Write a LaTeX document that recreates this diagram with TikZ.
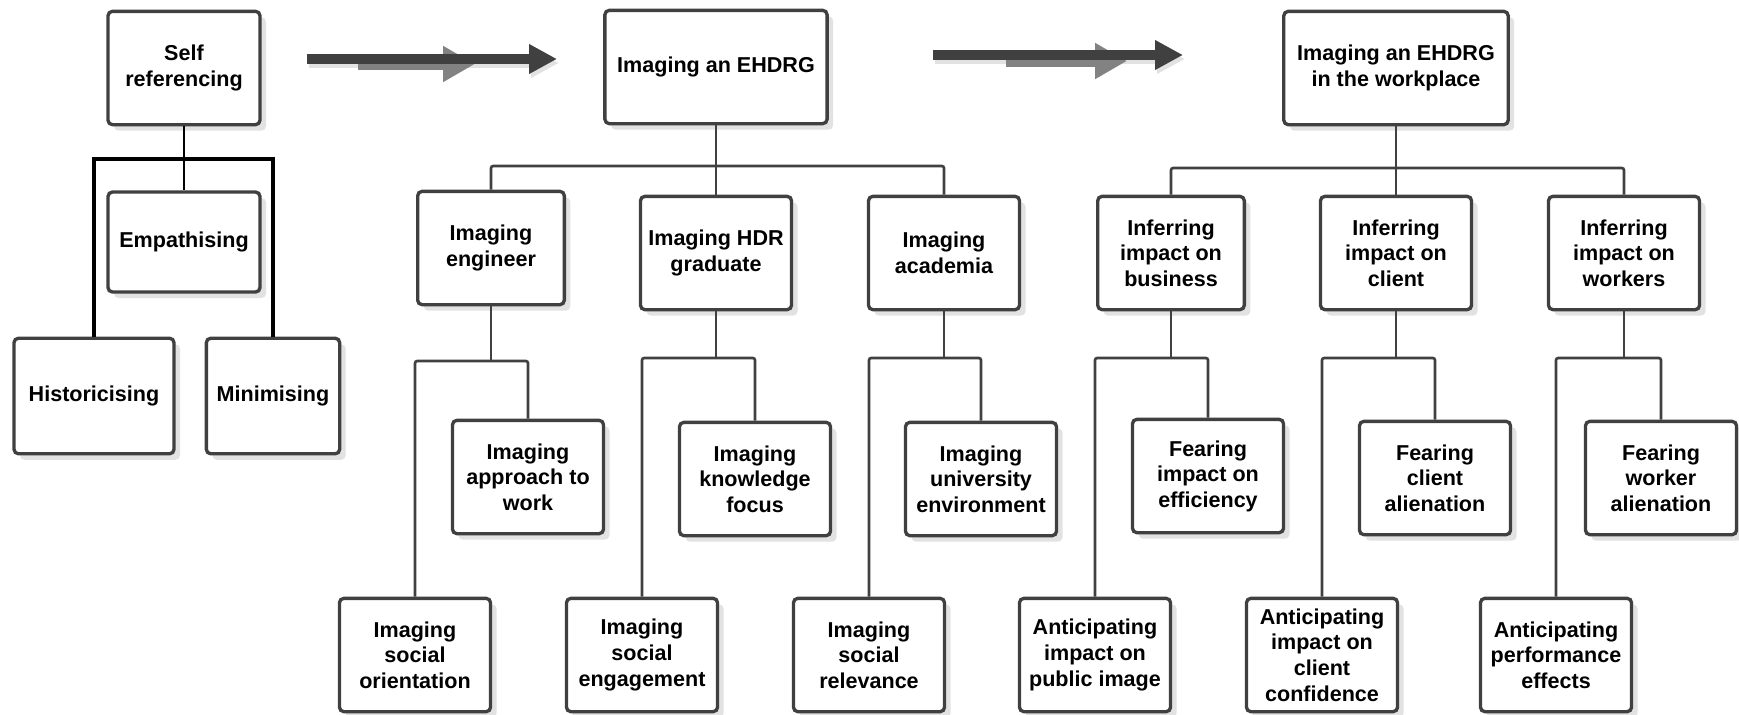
\documentclass[tikz,border=0pt]{standalone}
\usepackage{fontspec}
\setmainfont{Liberation Sans}
\usetikzlibrary{shadows,arrows.meta}

\definecolor{boxline}{HTML}{404040}
\definecolor{flowdark}{HTML}{404040}
\definecolor{flowgrey}{HTML}{828282}
\definecolor{shade}{HTML}{E2E2E2}

\tikzset{
  item/.style={draw=boxline, line width=1.5pt, rounded corners=2pt, fill=white,
    align=center, inner sep=2pt, font=\bfseries\fontsize{9.7}{11.5}\selectfont,
    minimum width=68pt, minimum height=51pt,
    drop shadow={shadow xshift=2.7pt, shadow yshift=-2.7pt, fill=shade, opacity=1}},
  link/.style={draw=boxline, line width=1.2pt, rounded corners=1pt},
  bracket/.style={draw=black, line width=1.5pt},
  thinlink/.style={draw=black, line width=0.5pt},
  darkarrow/.style={draw=flowdark, line width=4.5pt, -{Triangle[length=12.6pt,width=12.6pt]}},
  greyarrow/.style={draw=flowgrey, line width=5.4pt, -{Triangle[length=14.4pt,width=15.3pt]}},
  shadearrow/.style={draw=shade, line width=4.5pt, -{Triangle[length=12.6pt,width=12.6pt]}}
}

\begin{document}
\begin{tikzpicture}[x=0.45pt, y=-0.45pt]
  \useasboundingbox (0,0) rectangle (1739,714);

  % self referencing group
  \node[item, minimum width=68.4pt] (selfref) at (184,68) {Self\\referencing};
  \node[item, minimum width=68.4pt, minimum height=45pt] (empath) at (184,242) {Empathising};
  \node[item, minimum width=72pt, minimum height=52pt] (histor) at (94,396) {Historicising};
  \node[item, minimum width=60pt, minimum height=52pt] (minim) at (273,396) {Minimising};
  \coordinate (brk) at (184,159);
  \draw[thinlink] (selfref) -- (empath);
  \draw[bracket] (histor.north) |- (brk) -| (minim.north);

  % arrows between the stages
  \coordinate (a1s) at (307,59);  \coordinate (a1e) at (557,59);
  \coordinate (g1s) at (358,64);  \coordinate (g1e) at (475,64);
  \coordinate (a2s) at (933,55);  \coordinate (a2e) at (1183,55);
  \coordinate (g2s) at (1006,61); \coordinate (g2e) at (1127,61);
  \draw[shadearrow] ([shift={(2,4)}]a1s) -- ([shift={(2,4)}]a1e);
  \draw[greyarrow] (g1s) -- (g1e);
  \draw[darkarrow] (a1s) -- (a1e);
  \draw[shadearrow] ([shift={(2,4)}]a2s) -- ([shift={(2,4)}]a2e);
  \draw[greyarrow] (g2s) -- (g2e);
  \draw[darkarrow] (a2s) -- (a2e);

  % imaging an EHDRG
  \node[item, minimum width=100pt] (ehdrg) at (716,67) {Imaging an EHDRG};
  \node[item, minimum width=66pt] (eng) at (491,248) {Imaging\\engineer};
  \node[item] (hdr) at (716,253) {Imaging HDR\\graduate};
  \node[item] (acad) at (944,253) {Imaging\\academia};
  \node[item] (approach) at (528,477) {Imaging\\approach to\\work};
  \node[item] (socorient) at (415,655) {Imaging\\social\\orientation};
  \node[item] (knowledge) at (755,479) {Imaging\\knowledge\\focus};
  \node[item] (socengage) at (642,655) {Imaging\\social\\engagement};
  \node[item] (univ) at (981,479) {Imaging\\university\\environment};
  \node[item] (socrel) at (869,655) {Imaging\\social\\relevance};

  \coordinate (busM) at (716,166);
  \draw[link] (ehdrg) -- (busM);
  \draw[link] (eng.north) |- (busM) -| (acad.north);
  \draw[link] (busM) -- (hdr.north);
  \coordinate (busEng) at (491,361);
  \draw[link] (eng) -- (busEng);
  \draw[link] (socorient.north) |- (busEng) -| (approach.north);
  \coordinate (busHdr) at (716,358);
  \draw[link] (hdr) -- (busHdr);
  \draw[link] (socengage.north) |- (busHdr) -| (knowledge.north);
  \coordinate (busAcad) at (944,358);
  \draw[link] (acad) -- (busAcad);
  \draw[link] (socrel.north) |- (busAcad) -| (univ.north);

  % imaging an EHDRG in the workplace
  \node[item, minimum width=101pt] (workplace) at (1396,68) {Imaging an EHDRG\\in the workplace};
  \node[item, minimum width=66pt] (business) at (1171,253) {Inferring\\impact on\\business};
  \node[item] (client) at (1396,253) {Inferring\\impact on\\client};
  \node[item] (workers) at (1624,253) {Inferring\\impact on\\workers};
  \node[item] (efficiency) at (1208,476) {Fearing\\impact on\\efficiency};
  \node[item] (public) at (1095,655) {Anticipating\\impact on\\public image};
  \node[item] (clientalien) at (1435,478) {Fearing\\client\\alienation};
  \node[item] (confidence) at (1322,655) {Anticipating\\impact on\\client\\confidence};
  \node[item] (workeralien) at (1661,478) {Fearing\\worker\\alienation};
  \node[item] (perf) at (1556,655) {Anticipating\\performance\\effects};

  \coordinate (busR) at (1396,168);
  \draw[link] (workplace) -- (busR);
  \draw[link] (business.north) |- (busR) -| (workers.north);
  \draw[link] (busR) -- (client.north);
  \coordinate (busBus) at (1171,358);
  \draw[link] (business) -- (busBus);
  \draw[link] (public.north) |- (busBus) -| (efficiency.north);
  \coordinate (busCli) at (1396,358);
  \draw[link] (client) -- (busCli);
  \draw[link] (confidence.north) |- (busCli) -| (clientalien.north);
  \coordinate (busWrk) at (1624,358);
  \draw[link] (workers) -- (busWrk);
  \draw[link] (perf.north) |- (busWrk) -| (workeralien.north);
\end{tikzpicture}
\end{document}
